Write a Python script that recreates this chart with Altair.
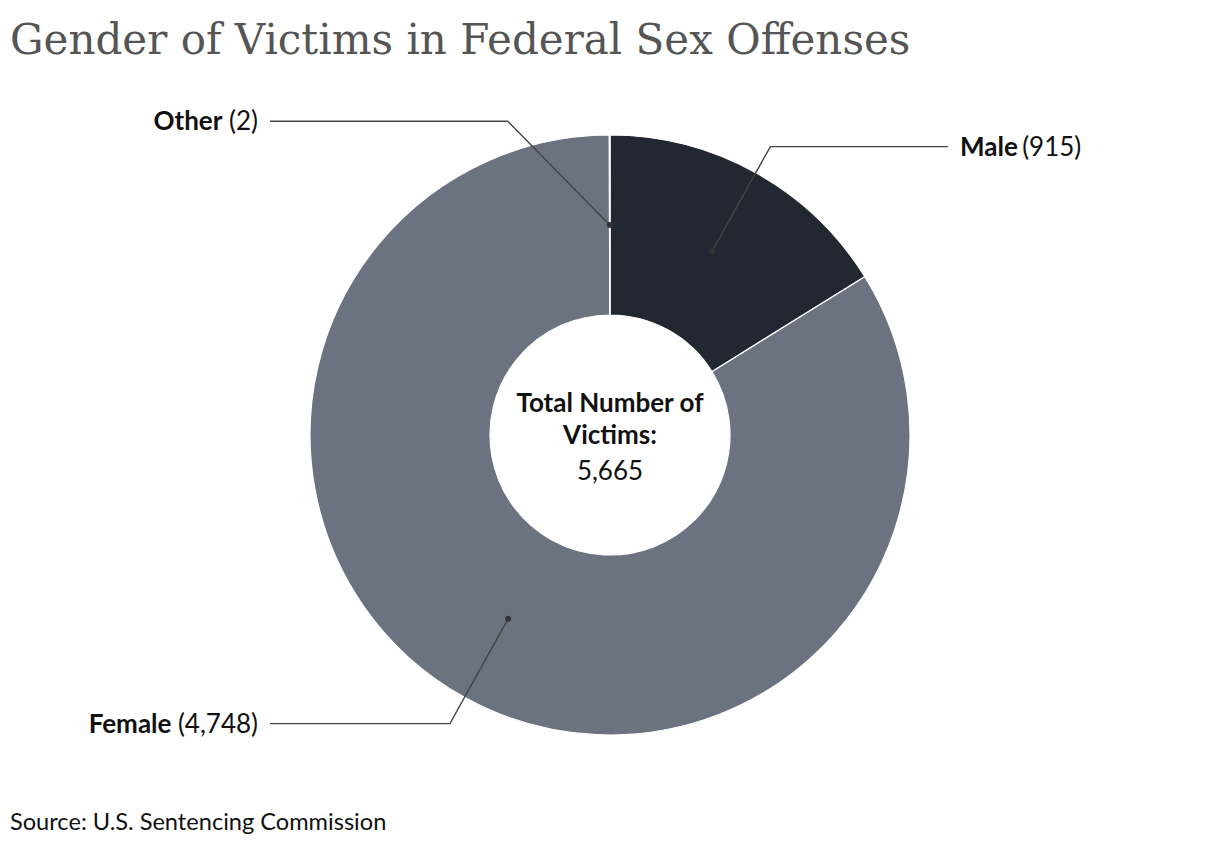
import math
import altair as alt
import pandas as pd

# ---------------- data ----------------
categories = ["Male", "Female", "Other"]
values = [915, 4748, 2]
colors = ["#222831", "#6b7280", "#6b7280"]
title_text = "Gender of Victims in Federal Sex Offenses"
source_text = "Source: U.S. Sentencing Commission"
center_lines = ["Total Number of", "Victims:"]

# ---------------- layout ----------------
OFF = 8
W, H = 1204, 830
CX, CY = 610 - OFF, 435 - OFF
R_OUT, R_IN = 300, 120
R_DOT, R_ELBOW = 210, 330
LEFT_END, RIGHT_END = 270 - OFF, 948 - OFF
LABEL_GAP = 12
LABEL_SIZE = 26
ANGLE_NUDGE = {"Other": -18}  # label collision nudge (degrees)

REG = {"(": 0.30, ")": 0.30, ",": 0.22, " ": 0.19}
BOLD = {"M": 0.88, "a": 0.52, "l": 0.26, "e": 0.54, "F": 0.56, "m": 0.83,
        "O": 0.78, "t": 0.35, "h": 0.56, "r": 0.38}


def text_w(s, table, digit=0.58):
    return sum(table.get(c, digit) for c in s) * LABEL_SIZE


total = sum(values)
pie_df = pd.DataFrame({"category": categories, "value": values,
                       "idx": list(range(len(categories)))})

line_rows, dot_rows, left_rows, right_rows = [], [], [], []
cum = 0
for cat, v in zip(categories, values):
    mid = (cum + v / 2) / total * 2 * math.pi
    cum += v
    dx, dy = CX + R_DOT * math.sin(mid), CY - R_DOT * math.cos(mid)
    la = mid + math.radians(ANGLE_NUDGE.get(cat, 0))
    ex, ey = CX + R_ELBOW * math.sin(la), CY - R_ELBOW * math.cos(la)
    right = math.sin(mid) > 0
    endx = RIGHT_END if right else LEFT_END
    for i, (px, py) in enumerate([(dx, dy), (ex, ey), (endx, ey)]):
        line_rows.append({"category": cat, "pt": i, "x": px, "y": py})
    dot_rows.append({"category": cat, "x": dx, "y": dy})
    vs = f"({v:,})"
    if right:
        nx = endx + LABEL_GAP
        right_rows.append({"name": cat, "val": vs, "y": ey, "xn": nx,
                           "xv": nx + text_w(cat, BOLD) + REG[" "] * LABEL_SIZE})
    else:
        vx = endx - LABEL_GAP
        left_rows.append({"name": cat, "val": vs, "y": ey, "xv": vx,
                          "xn": vx - text_w(vs, REG) - REG[" "] * LABEL_SIZE})

lines_df = pd.DataFrame(line_rows)
dots_df = pd.DataFrame(dot_rows)
left_df = pd.DataFrame(left_rows)
right_df = pd.DataFrame(right_rows)

xs = alt.Scale(domain=[0, W], nice=False, zero=False)
ys = alt.Scale(domain=[0, H], nice=False, zero=False, reverse=True)
FONT = "Lato"

arcs = alt.Chart(pie_df).mark_arc(
    outerRadius=R_OUT, innerRadius=R_IN, stroke="white", strokeWidth=1.2
).encode(
    theta=alt.Theta("value:Q", stack=True),
    color=alt.Color("category:N", scale=alt.Scale(domain=categories, range=colors), legend=None),
    order=alt.Order("idx:Q"),
    x=alt.value(CX), y=alt.value(CY),
)

leaders = alt.Chart(lines_df).mark_line(color="#444444", strokeWidth=1.4).encode(
    x=alt.X("x:Q", scale=xs, axis=None),
    y=alt.Y("y:Q", scale=ys, axis=None),
    detail="category:N",
    order="pt:Q",
)

dots = alt.Chart(dots_df).mark_circle(size=36, color="#333333", opacity=1).encode(
    x=alt.X("x:Q", scale=xs, axis=None),
    y=alt.Y("y:Q", scale=ys, axis=None),
)


def label_layer(df, field, xfield, align, weight):
    return alt.Chart(df).mark_text(
        align=align, baseline="middle", font=FONT, fontSize=LABEL_SIZE,
        fontWeight=weight, color="#111111", dy=1
    ).encode(
        x=alt.X(f"{xfield}:Q", scale=xs, axis=None),
        y=alt.Y("y:Q", scale=ys, axis=None),
        text=f"{field}:N",
    )


labels = [
    label_layer(right_df, "name", "xn", "left", "bold"),
    label_layer(right_df, "val", "xv", "left", "normal"),
    label_layer(left_df, "val", "xv", "right", "normal"),
    label_layer(left_df, "name", "xn", "right", "bold"),
]

center_bold = alt.Chart(pd.DataFrame({"t": [center_lines]})).mark_text(
    align="center", baseline="alphabetic", font=FONT, fontSize=26, fontWeight="bold",
    color="#111111", lineHeight=32
).encode(x=alt.value(CX), y=alt.value(412 - OFF), text="t")

center_total = alt.Chart(pd.DataFrame({"t": [f"{total:,}"]})).mark_text(
    align="center", baseline="alphabetic", font=FONT, fontSize=26, color="#111111"
).encode(x=alt.value(CX), y=alt.value(480 - OFF), text="t:N")

title = alt.Chart(pd.DataFrame({"t": [title_text]})).mark_text(
    align="left", baseline="alphabetic", font="DejaVu Serif", fontSize=42, color="#555555"
).encode(x=alt.value(10 - OFF), y=alt.value(54 - OFF), text="t:N")

source = alt.Chart(pd.DataFrame({"t": [source_text]})).mark_text(
    align="left", baseline="alphabetic", font=FONT, fontSize=23.6, color="#111111"
).encode(x=alt.value(10 - OFF), y=alt.value(830 - OFF), text="t:N")

chart = alt.layer(
    arcs, leaders, dots, *labels, center_bold, center_total, title, source
).properties(
    width=W, height=H, padding=0, autosize=alt.AutoSizeParams(type="none"),
    background="white",
).configure_view(stroke=None)

chart.save("out.html", embed_options={"renderer": "svg", "actions": False})
